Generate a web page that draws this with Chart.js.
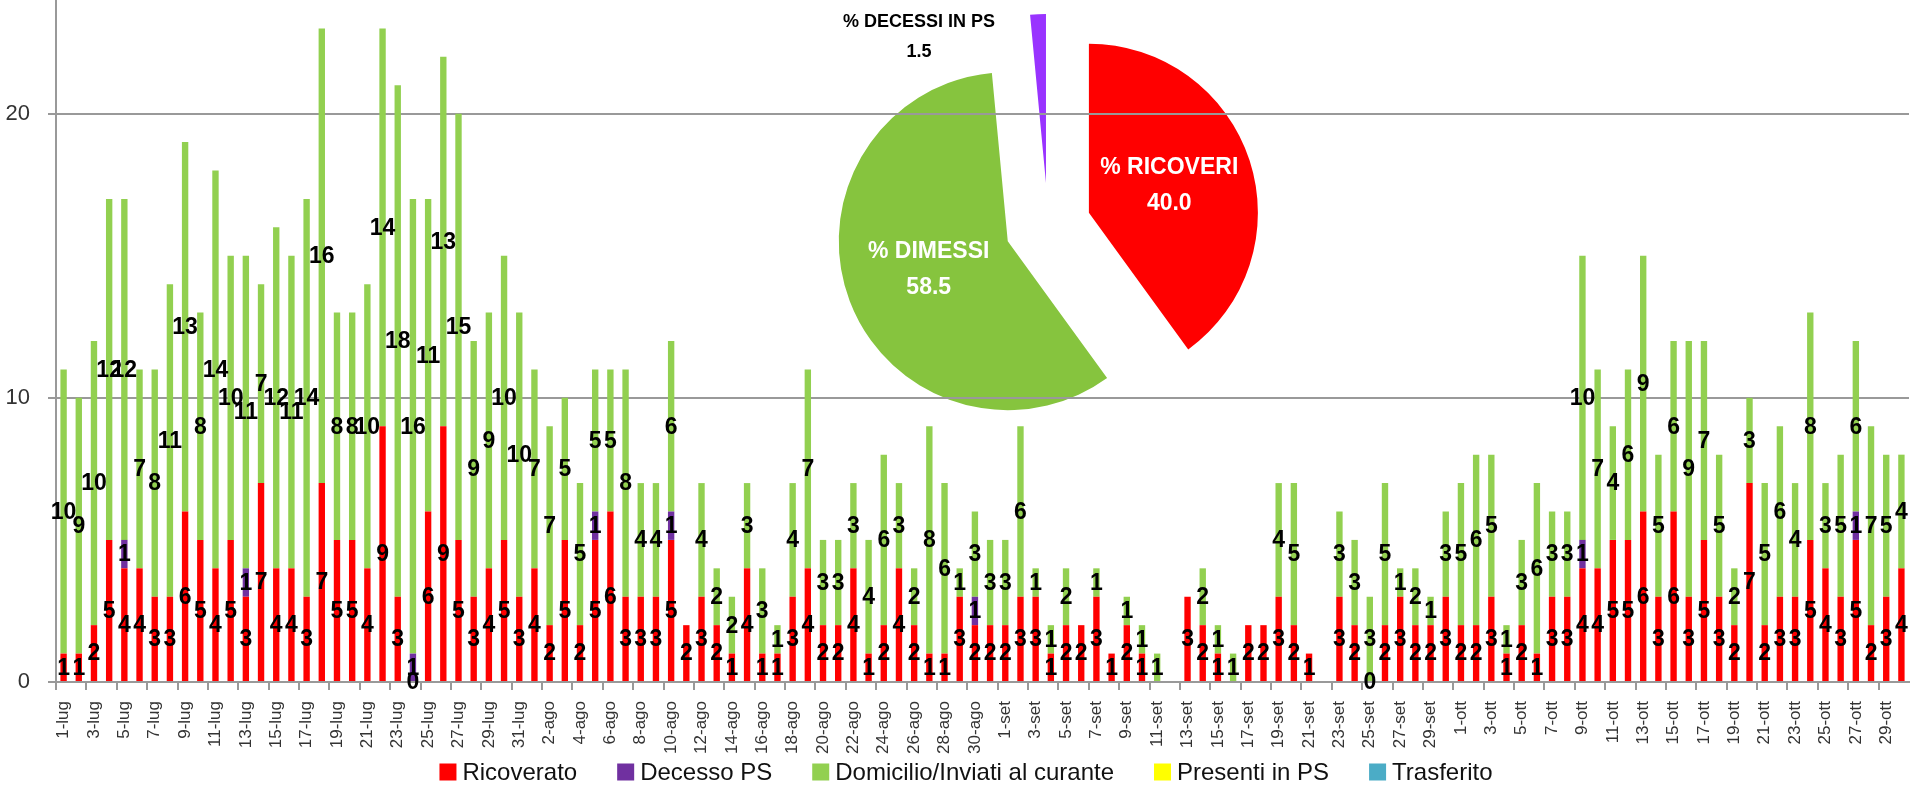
<!DOCTYPE html>
<html><head><meta charset="utf-8">
<script src="https://cdn.jsdelivr.net/npm/chart.js@4.4.0/dist/chart.umd.min.js"></script>
<style>
html,body{margin:0;padding:0;background:#fff;overflow:hidden}
#wrap{position:relative;width:1911px;height:793px;background:#fff;overflow:hidden}
#pie{position:absolute;left:748px;top:-74px;width:600px;height:600px}
#bars{position:absolute;left:0;top:0;width:1911px;height:793px}
</style></head><body>
<div id="wrap">
<canvas id="pie" width="600" height="600"></canvas>
<canvas id="bars" width="1911" height="793"></canvas>
</div>
<script>
const categories = [
 '1-lug','2-lug','3-lug','4-lug','5-lug','6-lug','7-lug','8-lug','9-lug','10-lug','11-lug','12-lug','13-lug','14-lug','15-lug','16-lug','17-lug','18-lug','19-lug','20-lug','21-lug','22-lug','23-lug','24-lug','25-lug','26-lug','27-lug','28-lug','29-lug','30-lug','31-lug',
 '1-ago','2-ago','3-ago','4-ago','5-ago','6-ago','7-ago','8-ago','9-ago','10-ago','11-ago','12-ago','13-ago','14-ago','15-ago','16-ago','17-ago','18-ago','19-ago','20-ago','21-ago','22-ago','23-ago','24-ago','25-ago','26-ago','27-ago','28-ago','29-ago','30-ago','31-ago',
 '1-set','2-set','3-set','4-set','5-set','6-set','7-set','8-set','9-set','10-set','11-set','12-set','13-set','14-set','15-set','16-set','17-set','18-set','19-set','20-set','21-set','22-set','23-set','24-set','25-set','26-set','27-set','28-set','29-set','30-set',
 '1-ott','2-ott','3-ott','4-ott','5-ott','6-ott','7-ott','8-ott','9-ott','10-ott','11-ott','12-ott','13-ott','14-ott','15-ott','16-ott','17-ott','18-ott','19-ott','20-ott','21-ott','22-ott','23-ott','24-ott','25-ott','26-ott','27-ott','28-ott','29-ott','30-ott'
];
const ricoverato = [
 1,1,2,5,4,4,3,3,6,5,4,5,3,7,4,4,3,7,5,5,4,9,3,0,6,9,5,3,4,5,3,
 4,2,5,2,5,6,3,3,3,5,2,3,2,1,4,1,1,3,4,2,2,4,1,2,4,2,1,1,3,2,2,
 2,3,3,1,2,2,3,1,2,1,null,null,3,2,1,null,2,2,3,2,1,null,3,2,0,2,3,2,2,3,
 2,2,3,1,2,1,3,3,4,4,5,5,6,3,6,3,5,3,2,7,2,3,3,5,4,3,5,2,3,4
];
const decessoPS = [
 null,null,null,null,1,null,null,null,null,null,null,null,1,null,null,null,null,null,null,null,null,null,null,1,null,null,null,null,null,null,null,
 null,null,null,null,1,null,null,null,null,1,null,null,null,null,null,null,null,null,null,null,null,null,null,null,null,null,null,null,null,1,null,
 null,null,null,null,null,null,null,null,null,null,null,null,null,null,null,null,null,null,null,null,null,null,null,null,null,null,null,null,null,null,
 null,null,null,null,null,null,null,null,1,null,null,null,null,null,null,null,null,null,null,null,null,null,null,null,null,null,1,null,null,null
];
const domicilio = [
 10,9,10,12,12,7,8,11,13,8,14,10,11,7,12,11,14,16,8,8,10,14,18,16,11,13,15,9,9,10,10,
 7,7,5,5,5,5,8,4,4,6,null,4,2,2,3,3,1,4,7,3,3,3,4,6,3,2,8,6,1,3,3,
 3,6,1,1,2,null,1,null,1,1,1,null,null,2,1,1,null,null,4,5,null,null,3,3,3,5,1,2,1,3,
 5,6,5,1,3,6,3,3,10,7,4,6,9,5,6,9,7,5,2,3,5,6,4,8,3,5,6,7,5,4
];
const presentiPS = [];
const trasferito = [];
const yTicks = [0, 10, 20];

const pieLabels = ['% RICOVERI', '% DIMESSI', '% DECESSI IN PS'];
const pieValues = [40.0, 58.5, 1.5];

const FONT = "'Liberation Sans', Arial, sans-serif";
const EXPLODE = 43;   // explosion distance of each slice (pure translation, as in Excel)
const PIE_R = 169;    // pie radius

const valueLabels = {
  id: 'valueLabels',
  afterDatasetsDraw(chart) {
    const ctx = chart.ctx;
    ctx.save();
    ctx.font = 'bold 23px ' + FONT;
    ctx.fillStyle = '#000';
    ctx.textAlign = 'center';
    ctx.textBaseline = 'middle';
    [0, 1, 2].forEach(di => {
      const meta = chart.getDatasetMeta(di);
      const data = chart.data.datasets[di].data;
      meta.data.forEach((bar, i) => {
        const v = data[i];
        if (v === null || v === undefined) return;
        if (v === 0 && di !== 0) return;
        ctx.fillText(String(v), bar.x, (bar.y + bar.base) / 2 + 1);
      });
    });
    ctx.restore();
  }
};

const bottomLegend = {
  id: 'bottomLegend',
  afterDraw(chart) {
    const ctx = chart.ctx;
    ctx.save();
    ctx.font = '24px ' + FONT;
    ctx.textBaseline = 'middle';
    ctx.textAlign = 'left';
    const box = 17, gap = 6, sep = 40, yc = 772;
    const ds = chart.data.datasets;
    let total = 0;
    ds.forEach((d, i) => { total += box + gap + ctx.measureText(d.label).width + (i < ds.length - 1 ? sep : 0); });
    let x = 966 - total / 2;
    ds.forEach(d => {
      ctx.fillStyle = d.backgroundColor;
      ctx.fillRect(x, yc - box / 2, box, box);
      x += box + gap;
      ctx.fillStyle = '#111';
      ctx.fillText(d.label, x, yc + 1);
      x += ctx.measureText(d.label).width + sep;
    });
    ctx.restore();
  }
};

new Chart(document.getElementById('pie'), {
  type: 'pie',
  data: {
    labels: pieLabels,
    datasets: [{
      data: pieValues,
      backgroundColor: ['#FF0000', '#86C43E', '#9933FF'],
      borderWidth: 0,
      radius: PIE_R
    }]
  },
  options: {
    responsive: false,
    animation: false,
    radius: PIE_R,
    events: [],
    layout: { padding: 0 },
    plugins: { legend: { display: false }, tooltip: { enabled: false } }
  },
  plugins: [{
    id: 'explode',
    afterDatasetsUpdate(chart) {
      chart.getDatasetMeta(0).data.forEach(arc => {
        const mid = (arc.startAngle + arc.endAngle) / 2;
        arc.x += Math.cos(mid) * EXPLODE;
        arc.y += Math.sin(mid) * EXPLODE;
      });
    },
    afterDatasetsDraw(chart) {
      const ctx = chart.ctx;
      const meta = chart.getDatasetMeta(0);
      ctx.save();
      ctx.textAlign = 'center';
      ctx.textBaseline = 'middle';
      meta.data.forEach((arc, i) => {
        const lab = chart.data.labels[i];
        const val = pieValues[i].toFixed(1);
        const mid = (arc.startAngle + arc.endAngle) / 2;
        if (i < 2) {
          const t = 0.5 * arc.outerRadius;
          const cx = arc.x + Math.cos(mid) * t;
          const cy = arc.y + Math.sin(mid) * t;
          ctx.font = 'bold 23px ' + FONT;
          ctx.fillStyle = '#fff';
          ctx.fillText(lab, cx, cy - 19);
          ctx.fillText(val, cx, cy + 17);
        } else {
          const cx = arc.x - 127, cy = arc.y - 146;
          ctx.font = 'bold 18px ' + FONT;
          ctx.fillStyle = '#000';
          ctx.fillText(lab, cx, cy - 15);
          ctx.fillText(val, cx, cy + 15);
        }
      });
      ctx.restore();
    }
  }]
});

new Chart(document.getElementById('bars'), {
  type: 'bar',
  data: {
    labels: categories,
    datasets: [
      { label: 'Ricoverato', data: ricoverato, backgroundColor: '#FF0000' },
      { label: 'Decesso PS', data: decessoPS, backgroundColor: '#7030A0' },
      { label: 'Domicilio/Inviati al curante', data: domicilio, backgroundColor: '#92D050' },
      { label: 'Presenti in PS', data: presentiPS, backgroundColor: '#FFFF00' },
      { label: 'Trasferito', data: trasferito, backgroundColor: '#4BACC6' }
    ]
  },
  options: {
    responsive: false,
    animation: false,
    events: [],
    layout: { padding: { left: 0, right: 2, top: 0, bottom: 35 } },
    datasets: { bar: { barPercentage: 0.42, categoryPercentage: 1, borderWidth: 0 } },
    plugins: { legend: { display: false }, tooltip: { enabled: false } },
    scales: {
      x: {
        stacked: true,
        offset: true,
        grid: {
          offset: true,
          drawOnChartArea: false,
          drawTicks: true,
          tickLength: 8,
          lineWidth: 2,
          color: c => (c.index !== undefined && c.index % 2 === 0) ? '#999' : 'rgba(0,0,0,0)'
        },
        border: { color: '#999', width: 2 },
        ticks: {
          autoSkip: false, maxRotation: 90, minRotation: 90, padding: 11,
          font: { family: FONT, size: 17 }, color: '#333',
          callback: (v, i) => (i % 2 === 0 ? categories[i] : '')
        },
        afterFit: s => { s.height = 76; s.paddingLeft = 0; s.paddingRight = 0; }
      },
      y: {
        stacked: true,
        min: 0, max: 24,
        afterBuildTicks: s => { s.ticks = yTicks.map(v => ({ value: v })); },
        ticks: { font: { family: FONT, size: 22 }, color: '#333', padding: 18 },
        grid: { color: '#999', lineWidth: 2, tickLength: 8 },
        border: { color: '#999', width: 2 },
        afterFit: s => { s.width = 56; s.paddingTop = 0; s.paddingBottom = 0; }
      }
    }
  },
  plugins: [valueLabels, bottomLegend]
});
</script>
</body></html>
